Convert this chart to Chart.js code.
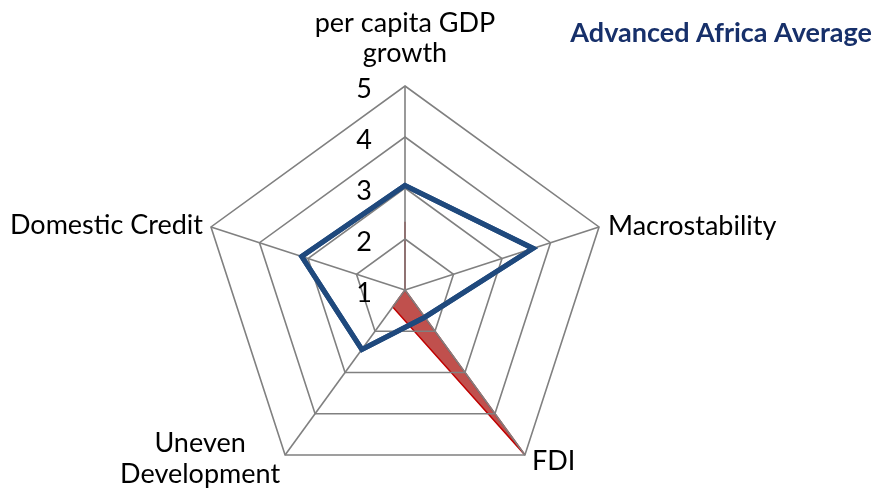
<!DOCTYPE html>
<html>
<head>
<meta charset="utf-8">
<script src="https://cdn.jsdelivr.net/npm/chart.js@4/dist/chart.umd.min.js"></script>
<style>
  html, body { margin: 0; padding: 0; background: #ffffff; }
  #wrap { width: 877px; height: 495px; position: relative; }
</style>
</head>
<body>
<div id="wrap"><canvas id="c"></canvas></div>
<script>
// ---- data ----
const categories = [["per capita GDP", "growth"], "Macrostability", "FDI", ["Uneven", "Development"], "Domestic Credit"];
const advancedAfricaAverage = [3.05, 3.64, 1.66, 2.44, 3.13];
const country = [2.34, 1.0, 5.0, 1.41, 1.0];
const tickValues = [1, 2, 3, 4, 5];
const chartTitle = "Advanced Africa Average";

const labelFont = '27px Lato';

const labelPlugin = {
  id: 'labelPlugin',
  afterDraw(chart) {
    const ctx = chart.ctx;
    const scale = chart.scales.r;
    // redraw the line series above the grid (as in the original)
    const meta = chart.getDatasetMeta(0);
    ctx.save();
    meta.controller.draw();
    ctx.restore();

    ctx.save();
    ctx.fillStyle = '#000000';
    ctx.font = labelFont;
    ctx.textBaseline = 'alphabetic';
    // tick labels
    ctx.textAlign = 'center';
    tickValues.forEach(v => {
      const d = scale.getDistanceFromCenterForValue(v);
      ctx.fillText(String(v), scale.xCenter - 41, scale.yCenter - d + 12);
    });
    // point labels
    const R = scale.drawingArea;
    categories.forEach((lab, i) => {
      const p = scale.getPointPosition(i, R);
      const lines = Array.isArray(lab) ? lab : [lab];
      if (i === 0) {
        ctx.textAlign = 'center';
        ctx.fillText(lines[0], p.x, p.y - 54);
        ctx.fillText(lines[1], p.x, p.y - 24);
      } else if (i === 1) {
        ctx.textAlign = 'left';
        ctx.fillText(lines[0], p.x + 9, p.y + 8);
      } else if (i === 2) {
        ctx.textAlign = 'left';
        ctx.fillText(lines[0], p.x + 7, p.y + 15);
      } else if (i === 3) {
        ctx.textAlign = 'center';
        ctx.fillText(lines[0], p.x - 85, p.y - 3);
        ctx.fillText(lines[1], p.x - 85, p.y + 28);
      } else {
        ctx.textAlign = 'right';
        ctx.fillText(lines[0], p.x - 8, p.y + 7);
      }
    });
    // title
    ctx.textAlign = 'right';
    ctx.fillStyle = '#17306A';
    ctx.font = 'bold 27px Lato';
    ctx.fillText(chartTitle, 872, 42);
    ctx.restore();
  }
};

new Chart(document.getElementById('c'), {
  type: 'radar',
  data: {
    labels: categories,
    datasets: [
      {
        label: 'Advanced Africa Average',
        data: advancedAfricaAverage,
        borderColor: '#1F497D',
        borderWidth: 5,
        fill: false,
        pointRadius: 0,
        pointHoverRadius: 0,
        tension: 0
      },
      {
        label: 'Country',
        data: country,
        borderColor: '#C00000',
        backgroundColor: '#C0504D',
        borderWidth: 1.5,
        fill: true,
        pointRadius: 0,
        pointHoverRadius: 0,
        tension: 0
      }
    ]
  },
  options: {
    responsive: true,
    maintainAspectRatio: false,
    animation: false,
    events: [],
    layout: { padding: { top: 86, bottom: 1, left: 201, right: 268 } },
    plugins: {
      legend: { display: false },
      title: { display: false },
      tooltip: { enabled: false }
    },
    scales: {
      r: {
        min: 1,
        max: 5,
        ticks: { display: false, stepSize: 1 },
        pointLabels: { display: false },
        grid: { color: '#808080', lineWidth: 1.6, circular: false, z: 1 },
        angleLines: { color: '#808080', lineWidth: 1.6 }
      }
    }
  },
  plugins: [labelPlugin]
});
</script>
</body>
</html>
